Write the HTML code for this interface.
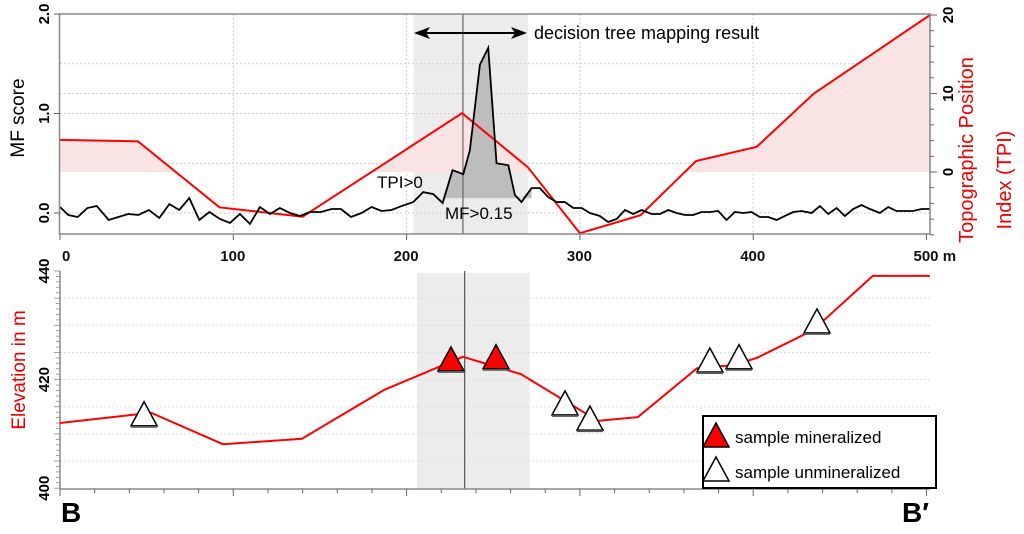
<!DOCTYPE html>
<html><head><meta charset="utf-8"><style>
body{margin:0;background:#fff;width:1024px;height:534px;overflow:hidden}
svg{display:block;font-family:"Liberation Sans",Arial,sans-serif}
</style></head><body>
<svg id="c" width="1024" height="534" xmlns="http://www.w3.org/2000/svg"></svg>
<script>
const mfDist=[0,4.8,10.2,15.8,21.2,28.1,33.7,39.4,45.2,51.3,57.3,63.1,68.8,74.6,80.4,86.2,92.3,98.1,103.8,109.6,115.4,121.2,126.9,132.7,138.5,144.2,150.6,156.7,162.1,167.9,174,179.8,185.6,191.3,197.1,203.8,209.6,215.4,220.8,226.5,232.7,236.5,242.3,247.1,251.9,258.7,262.5,266.3,272.1,276.9,281.7,286.5,291.3,296.2,301,305.8,311.5,316.3,321.2,326,330.8,335.6,341.3,346.2,351,355.8,360.6,365.4,370.2,375,379.8,384.6,389.4,394.2,399,403.8,408.7,413.5,418.3,423.1,427.9,433.7,438.5,443.3,448.1,452.9,457.7,462.5,467.3,473.1,477.9,482.7,487.5,492.3,497.1,501.9];
const mfScore=[0.06,-0.02,-0.04,0.05,0.07,-0.07,-0.04,-0.01,-0.02,0.03,-0.05,0.09,0.03,0.15,-0.07,0.01,-0.06,-0.10,-0.01,-0.11,0.06,-0.01,0.05,0.0,-0.03,0.01,0.01,0.04,0.04,-0.04,0.0,0.06,0.02,0.03,0.07,0.11,0.21,0.19,0.10,0.43,0.39,0.63,1.49,1.66,0.50,0.48,0.18,0.11,0.25,0.25,0.16,0.11,0.11,0.05,0.05,0.0,-0.03,-0.09,-0.06,0.03,-0.01,0.03,-0.01,-0.01,0.03,0.0,-0.02,-0.02,0.01,0.01,0.02,-0.07,0.01,0.0,0.01,-0.04,-0.04,-0.07,-0.03,0.01,0.02,0.0,0.07,-0.01,0.05,-0.03,0.04,0.08,0.04,0.0,0.06,0.02,0.02,0.02,0.04,0.04];
const tpiDist=[0,45,92,140,232,270,300,335,367,402,435,502];
const tpiVal=[4.1,3.9,-4.5,-5.7,7.5,0.6,-7.8,-5.5,1.4,3.2,10,20];
const elevDist=[0,52.5,94,139.6,187,232.5,266,310.4,333.5,367.6,389.5,402.2,434.5,469,502];
const elevVal=[412.0,413.9,408.1,409.1,418.1,424.2,421.0,412.4,413.1,422.1,422.7,424.0,429.1,439.1,439.1];
const minDist=[225.6,251.6];
const minElev=[421.6,422.0];
const unDist=[48.5,291.4,305.8,375,391.8,436.8];
const unElev=[411.5,413.5,410.7,421.4,422.0,428.6];
const xTicks=[0,100,200,300,400,500];
const xTickLabels=["0","100","200","300","400","500 m"];
const mfTicks=[0,1,2];const mfTickLabels=["0.0","1.0","2.0"];
const tpiTicks=[0,10,20];
const elevTicks=[400,420,440];

const S=document.getElementById('c');const NS='http://www.w3.org/2000/svg';
function el(t,a,txt,p){const e=document.createElementNS(NS,t);for(const k in a)e.setAttribute(k,a[k]);if(txt!=null)e.textContent=txt;(p||S).appendChild(e);return e;}
const X=m=>60+m*1.733;
const Ymf=v=>213-v*99.5;
const Ytpi=v=>172-v*7.85;
const Yel=v=>271+(440-v)*5.43;
let e;
e=el('rect',{x:X(204),y:14,width:X(270)-X(204),height:220,fill:'#ececec'});

e=el('rect',{x:X(206),y:273,width:X(271)-X(206),height:216,fill:'#ececec'});

[100,200,300,400].forEach(m=>{el('line',{x1:X(m),y1:14,x2:X(m),y2:234,stroke:'#ccc','stroke-dasharray':'2,2'});});
[0,0.5,1,1.5].forEach(v=>{el('line',{x1:60,y1:Ymf(v),x2:930,y2:Ymf(v),stroke:'#ccc','stroke-dasharray':'2,2'});});
el('line',{x1:60,y1:Ytpi(10),x2:930,y2:Ytpi(10),stroke:'#ccc','stroke-dasharray':'2,2'});
for(let v=405;v<440;v+=5){el('line',{x1:60,y1:Yel(v),x2:930,y2:Yel(v),stroke:'#ddd','stroke-dasharray':'2,2'});}
let fp=[];
for(let i=0;i<tpiDist.length;i++){
  if(i>0){const a=tpiVal[i-1],b=tpiVal[i];if((a>0)!=(b>0)){const t=a/(a-b);fp.push([tpiDist[i-1]+t*(tpiDist[i]-tpiDist[i-1]),0]);}}
  fp.push([tpiDist[i],Math.max(0,tpiVal[i])]);
}
e=el('path',{d:'M'+X(0)+','+Ytpi(0)+fp.map(p=>'L'+X(p[0])+','+Ytpi(p[1])).join('')+'L'+X(tpiDist[tpiDist.length-1])+','+Ytpi(0)+'Z',fill:'#f9e3e3'});

let mp=[];
for(let i=0;i<mfDist.length;i++){
  if(mfDist[i]<218||mfDist[i]>273)continue;
  mp.push([mfDist[i],Math.max(0.15,mfScore[i])]);
}
e=el('path',{d:'M'+X(mp[0][0])+','+Ymf(0.15)+mp.map(p=>'L'+X(p[0])+','+Ymf(p[1])).join('')+'L'+X(mp[mp.length-1][0])+','+Ymf(0.15)+'Z',fill:'#bdbdbd'});

el('line',{x1:X(232.5),y1:14,x2:X(232.5),y2:234,stroke:'#666','stroke-width':1.2});
el('line',{x1:X(233.5),y1:271,x2:X(233.5),y2:489,stroke:'#555','stroke-width':1.2});
e=el('polyline',{points:tpiDist.map((m,i)=>X(m)+','+Ytpi(tpiVal[i])).join(' '),fill:'none',stroke:'#f00','stroke-width':2});

e=el('polyline',{points:mfDist.map((m,i)=>X(m)+','+Ymf(mfScore[i])).join(' '),fill:'none',stroke:'#000','stroke-width':1.8});

el('rect',{x:59.5,y:14,width:870.5,height:220,fill:'none',stroke:'#888','stroke-width':1.5});
xTicks.forEach((m,i)=>{el('line',{x1:X(m),y1:234,x2:X(m),y2:240,stroke:'#666'});
 e=el('text',{x:X(m)-(i==0?-2:13),y:261,'font-size':15,'font-weight':'bold',fill:'#111'},xTickLabels[i]);});
mfTicks.forEach((v,i)=>{el('line',{x1:54,y1:Ymf(v),x2:60,y2:Ymf(v),stroke:'#666'});
 e=el('text',{x:0,y:0,'font-size':15,'font-weight':'bold',transform:`translate(49,${Ymf(v)}) rotate(-90)`,'text-anchor':'middle'},mfTickLabels[i]);});
for(let v=-8;v<=20;v+=2){el('line',{x1:930,y1:Ytpi(v),x2:v%10==0?937:934,y2:Ytpi(v),stroke:'#666'});}
tpiTicks.forEach(v=>{e=el('text',{x:0,y:0,'font-size':15,'font-weight':'bold',transform:`translate(953,${Ytpi(v)}) rotate(-90)`,'text-anchor':'middle'},String(v));});
e=el('text',{x:0,y:0,'font-size':19,transform:'translate(24,118) rotate(-90)','text-anchor':'middle'},'MF score');
e=el('text',{x:0,y:0,'font-size':20,fill:'#e00',transform:'translate(973,150) rotate(-90)','text-anchor':'middle'},'Topographic Position');
e=el('text',{x:0,y:0,'font-size':20,fill:'#e00',transform:'translate(1011,180) rotate(-90)','text-anchor':'middle'},'Index (TPI)');
el('line',{x1:422,y1:33,x2:520,y2:33,stroke:'#000','stroke-width':2});
el('path',{d:'M414,33 L430,27 L426,33 L430,39Z',fill:'#000'});
el('path',{d:'M527,33 L511,27 L515,33 L511,39Z',fill:'#000'});
e=el('text',{x:534,y:39,'font-size':18},'decision tree mapping result');
e=el('text',{x:377,y:188,'font-size':17},'TPI>0');
e=el('text',{x:445,y:219,'font-size':17},'MF>0.15');
el('line',{x1:60,y1:271,x2:60,y2:489,stroke:'#888','stroke-width':1.5});
el('line',{x1:60,y1:489,x2:930,y2:489,stroke:'#888','stroke-width':1.5});
for(let v=400;v<=440;v+=1){el('line',{x1:v%5==0?54:56,y1:Yel(v),x2:60,y2:Yel(v),stroke:'#888','stroke-width':0.8});}
for(let m=0;m<=500;m+=20){el('line',{x1:X(m),y1:489,x2:X(m),y2:m%100==0?496:493,stroke:'#666'});}
elevTicks.forEach(v=>{e=el('text',{x:0,y:0,'font-size':15,'font-weight':'bold',transform:`translate(49,${Yel(v)}) rotate(-90)`,'text-anchor':'middle'},String(v));});
e=el('text',{x:0,y:0,'font-size':19,fill:'#e00',transform:'translate(25,370) rotate(-90)','text-anchor':'middle'},'Elevation in m');
e=el('polyline',{points:elevDist.map((m,i)=>X(m)+','+Yel(elevVal[i])).join(' '),fill:'none',stroke:'#f00','stroke-width':2});

function tri(cx,by,fill,name){
  const g=el('g',{});
  
  
  el('path',{d:`M${cx},${by-24} L${cx+13},${by} L${cx-13},${by}Z`,fill:fill,stroke:'#000','stroke-width':1.5,'stroke-linejoin':'miter'},null,g);
  el('line',{x1:cx-13,y1:by+1,x2:cx+13,y2:by+1,stroke:'#555','stroke-width':2},null,g);
}
minDist.forEach((m,i)=>tri(X(m),Yel(minElev[i]),'#f00','sample-mineralized'));
unDist.forEach((m,i)=>tri(X(m),Yel(unElev[i]),'#fff','sample-unmineralized'));
const lg=el('g',{});
el('rect',{x:703,y:416,width:233,height:72,fill:'#fff',stroke:'#000','stroke-width':2},null,lg);
el('path',{d:'M716,423 L729,447 L703,447Z',fill:'#f00',stroke:'#000','stroke-width':1.5},null,lg);
el('path',{d:'M716,457 L729,481 L703,481Z',fill:'#fff',stroke:'#000','stroke-width':1.5},null,lg);
e=el('text',{x:735,y:443,'font-size':17},'sample mineralized',lg);
e=el('text',{x:735,y:478,'font-size':17},'sample unmineralized',lg);
e=el('text',{x:61,y:522,'font-size':28,'font-weight':'bold'},'B');
e=el('text',{x:902,y:522,'font-size':28,'font-weight':'bold'},'B′');
</script>
</body></html>
